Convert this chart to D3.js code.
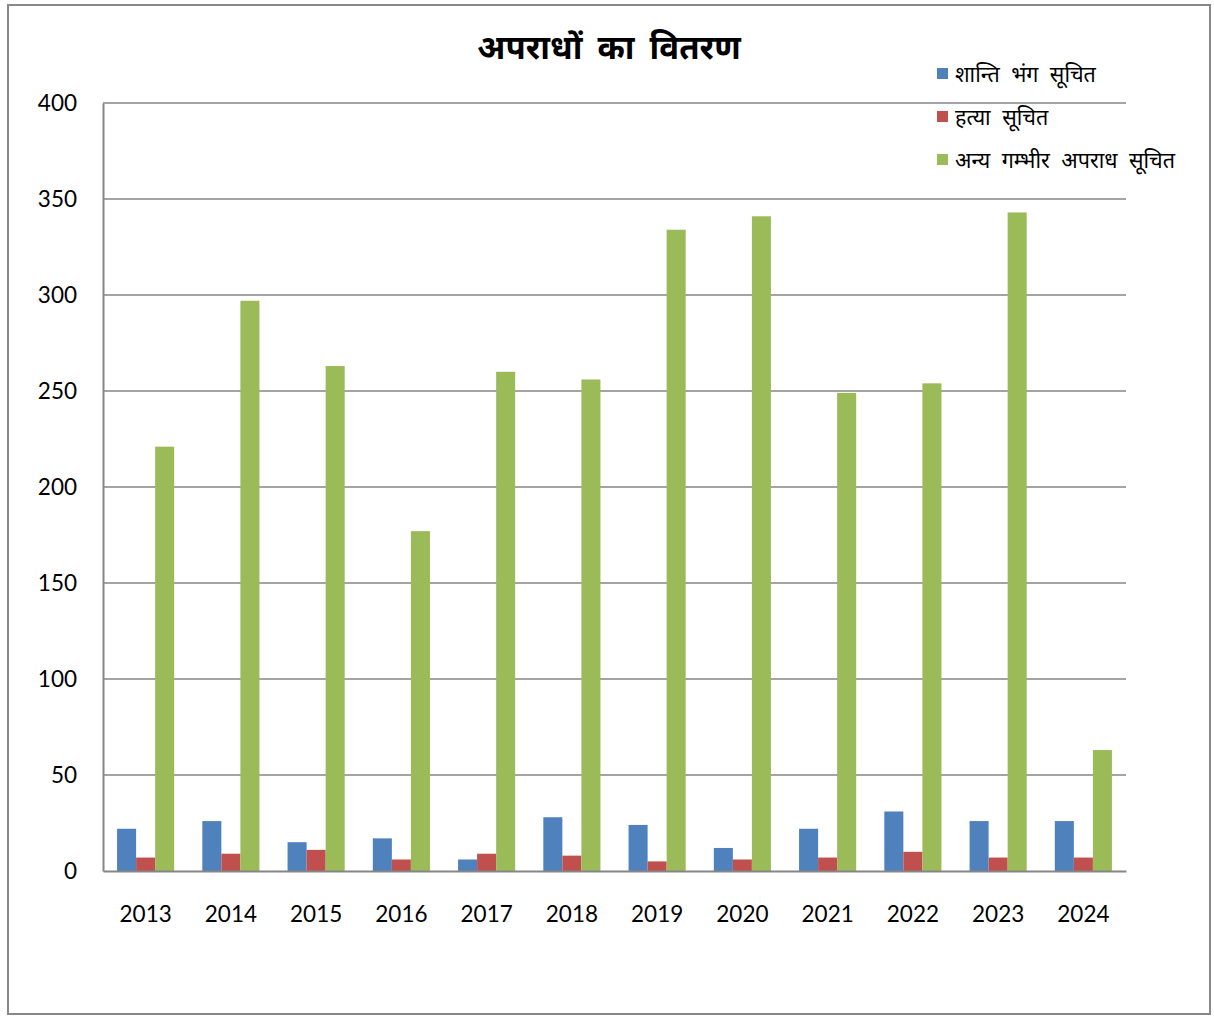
<!DOCTYPE html>
<html><head><meta charset="utf-8">
<script src="https://cdn.jsdelivr.net/npm/d3@7"></script>
<style>
body{margin:0;background:#fff;}
svg{display:block;}
text{font-family:Lato,"Noto Sans","Noto Sans Devanagari","Lohit Devanagari",sans-serif;}
</style></head>
<body>
<svg id="c" width="1214" height="1016"></svg>
<script>
const years = ["2013","2014","2015","2016","2017","2018","2019","2020","2021","2022","2023","2024"];
const seriesNames = ["शान्ति भंग सूचित","हत्या सूचित","अन्य गम्भीर अपराध सूचित"];
const peaceBreach = [22,26,15,17,6,28,24,12,22,31,26,26];
const murder = [7,9,11,6,9,8,5,6,7,10,7,7];
const otherSerious = [221,297,263,177,260,256,334,341,249,254,343,63];
const yTicks = [0,50,100,150,200,250,300,350,400];
const titleText = "अपराधों का वितरण";
const colors = ["#4F81BD","#C0504D","#9BBB59"];

const allSeries = [peaceBreach, murder, otherSerious];
const svg = d3.select("#c");
svg.append("rect").attr("x",8).attr("y",5).attr("width",1202).attr("height",1009)
  .attr("fill","#fff").attr("stroke","#888").attr("stroke-width",2);

const L=103, R=1126, T=103, B=871;
const x = d3.scaleBand().domain(years).range([L,R]).paddingInner(0.33).paddingOuter(0.165);
const x1 = d3.scaleBand().domain([0,1,2]).range([0,x.bandwidth()]);
const y = d3.scaleLinear().domain([0,400]).range([B,T]);

// gridlines
svg.append("g").selectAll("line").data(yTicks.filter(d=>d>0)).join("line")
  .attr("x1",L).attr("x2",R).attr("y1",d=>y(d)).attr("y2",d=>y(d))
  .attr("stroke","#868686").attr("stroke-width",1.5);

// bars
const g = svg.append("g");
years.forEach((yr,i)=>{
  allSeries.forEach((s,k)=>{
    g.append("rect").attr("x",x(yr)+x1(k)).attr("width",x1.bandwidth())
      .attr("y",y(s[i])).attr("height",B-y(s[i])).attr("fill",colors[k]);
  });
});

// axes
const yAxis = d3.axisLeft(y).tickValues(yTicks).tickSize(0).tickPadding(26);
const ya = svg.append("g").attr("transform",`translate(${L},0)`).call(yAxis);
ya.select(".domain").attr("stroke","#868686").attr("stroke-width",2);
ya.selectAll("text").attr("font-size",22.5).attr("fill","#000").style("font-family","Lato, sans-serif");

const xAxis = d3.axisBottom(x).tickSize(0).tickPadding(43);
const xa = svg.append("g").attr("transform",`translate(0,${B})`).call(xAxis);
xa.select(".domain").attr("stroke","#868686").attr("stroke-width",2);
xa.selectAll("text").attr("font-size",22.5).attr("fill","#000").attr("dy","0.35em").style("font-family","Lato, sans-serif");

// title
svg.append("text").attr("x",609).attr("y",59).attr("text-anchor","middle")
  .attr("font-size",33).attr("font-weight","bold").attr("word-spacing","7px").attr("fill","#000").text(titleText);

// legend
const lg = svg.append("g");
seriesNames.forEach((n,k)=>{
  const cy = 74 + k*43;
  lg.append("rect").attr("x",937).attr("y",cy-6).attr("width",11).attr("height",11).attr("fill",colors[k]);
  lg.append("text").attr("x",955).attr("y",cy).attr("dy","0.35em").attr("font-size",21.5).attr("word-spacing","6px").attr("fill","#000").text(n);
});
</script>
</body></html>
